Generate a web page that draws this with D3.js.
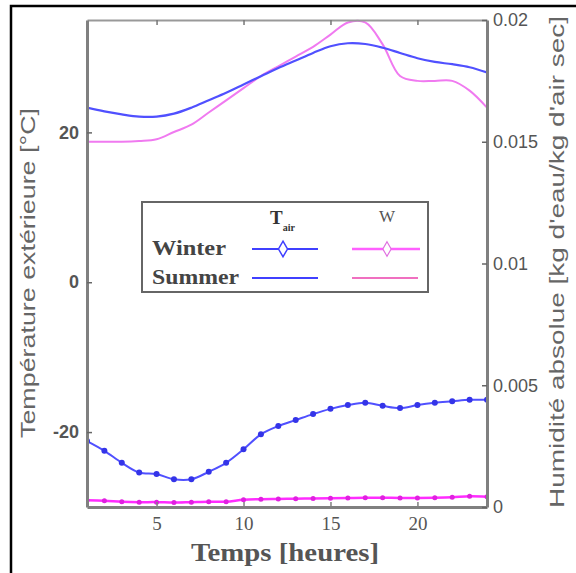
<!DOCTYPE html>
<html><head><meta charset="utf-8">
<script src="https://cdn.jsdelivr.net/npm/d3@7/dist/d3.min.js"></script>
<style>body{margin:0;background:#fff;}svg{display:block;}</style>
</head><body>
<svg id="c" width="576" height="573"></svg>
<script>
const hours = d3.range(1, 25);
const summerT = [23.3,22.8,22.4,22.1,22.1,22.5,23.3,24.3,25.3,26.4,27.5,28.6,29.6,30.6,31.5,31.9,31.8,31.3,30.6,29.9,29.4,29.1,28.7,28.0];
const winterT = [-21.2,-22.5,-24.1,-25.4,-25.6,-26.3,-26.3,-25.3,-24.1,-22.3,-20.3,-19.2,-18.4,-17.6,-16.9,-16.4,-16.1,-16.5,-16.8,-16.4,-16.1,-15.9,-15.7,-15.7];
const summerW = [0.0150,0.0150,0.0150,0.01503,0.0151,0.0154,0.0157,0.0162,0.0167,0.0172,0.0177,0.0181,0.0185,0.0189,0.0194,0.0199,0.0199,0.0190,0.0177,0.0175,0.0175,0.0175,0.0171,0.0164];
const winterW = [0.00028,0.00026,0.00022,0.0002,0.0002,0.00018,0.0002,0.00022,0.00022,0.0003,0.00032,0.00033,0.00034,0.00035,0.00036,0.00037,0.00038,0.00038,0.00037,0.00037,0.00038,0.0004,0.00044,0.00042];
const xTicks = [5,10,15,20];
const yLeftTicks = [-20,0,20];
const yRightTicks = [0,0.005,0.01,0.015,0.02];
const yRightLabels = ["0","0.005","0.01","0.015","0.02"];
const legendRows = ["Winter","Summer"];

const svg = d3.select("#c");
const L = 87, R = 487, T = 20, B = 507;
const x = d3.scaleLinear().domain([1,24]).range([L,R]);
const yL = d3.scaleLinear().domain([-30,35]).range([B,T]);
const yR = d3.scaleLinear().domain([0,0.02]).range([B,T]);
const grey = "#808080", txt = "#555";

svg.append("rect").attr("x",11).attr("y",6).attr("width",600).attr("height",600)
  .attr("fill","none").attr("stroke","#000").attr("stroke-width",2.5);

svg.append("clipPath").attr("id","clip").append("rect").attr("x",L).attr("y",T-1).attr("width",R-L).attr("height",B-T+1);

const g = svg.append("g").attr("clip-path","url(#clip)");
const lineL = d3.line().x((d,i)=>x(hours[i])).y(d=>yL(d)).curve(d3.curveCatmullRom.alpha(0.5));
const lineR = d3.line().x((d,i)=>x(hours[i])).y(d=>yR(d)).curve(d3.curveCatmullRom.alpha(0.5));

g.append("path").datum(summerW).attr("d",lineR).attr("fill","none").attr("stroke","#f07af0").attr("stroke-width",2);
g.append("path").datum(summerT).attr("d",lineL).attr("fill","none").attr("stroke","#5050ff").attr("stroke-width",2.2);
g.append("path").datum(winterW).attr("d",lineR).attr("fill","none").attr("stroke","#ff2cff").attr("stroke-width",2.5);
g.selectAll(".ww").data(winterW).enter().append("circle").attr("cx",(d,i)=>x(hours[i])).attr("cy",d=>yR(d)).attr("r",2.5).attr("fill","#e020e0");
g.append("path").datum(winterT).attr("d",lineL).attr("fill","none").attr("stroke","#5050ff").attr("stroke-width",2);
g.selectAll(".wt").data(winterT).enter().append("circle").attr("cx",(d,i)=>x(hours[i])).attr("cy",d=>yL(d)).attr("r",3).attr("fill","#3434e8");

const ax = svg.append("g").attr("transform",`translate(0,${B})`).call(d3.axisBottom(x).tickValues(xTicks).tickSize(-5).tickPadding(10).tickSizeOuter(0));
ax.select(".domain").attr("stroke",grey).attr("stroke-width",3);
ax.selectAll(".tick line").attr("stroke",grey).attr("stroke-width",1.5);
ax.selectAll("text").attr("fill",txt).attr("font-family","Liberation Serif").attr("font-size",19);

const at = svg.append("g").attr("transform",`translate(0,${T})`).call(d3.axisTop(x).tickValues(xTicks).tickSize(-5).tickFormat("").tickSizeOuter(0));
at.select(".domain").attr("stroke","#999").attr("stroke-width",2);
at.selectAll(".tick line").attr("stroke","#777").attr("stroke-width",1.5);

const al = svg.append("g").attr("transform",`translate(${L},0)`).call(d3.axisLeft(yL).tickValues(yLeftTicks).tickSize(-5).tickPadding(8).tickSizeOuter(0));
al.select(".domain").attr("stroke",grey).attr("stroke-width",3);
al.selectAll(".tick line").attr("stroke","#666").attr("stroke-width",1.5);
al.selectAll("text").attr("fill",txt).attr("font-family","Liberation Sans").attr("font-weight","bold").attr("font-size",18).text(d=>d<0?"-"+Math.abs(d):d);

const ar = svg.append("g").attr("transform",`translate(${R},0)`).call(d3.axisRight(yR).tickValues(yRightTicks).tickSize(-5).tickPadding(6).tickSizeOuter(0).tickFormat((d,i)=>yRightLabels[i]));
ar.select(".domain").attr("stroke",grey).attr("stroke-width",3);
ar.selectAll(".tick line").attr("stroke","#666").attr("stroke-width",1.5);
ar.selectAll("text").attr("fill",txt).attr("font-family","Liberation Sans").attr("font-size",18);

svg.append("text").attr("transform","translate(35,273) rotate(-90)").attr("text-anchor","middle")
  .attr("fill","#666").attr("font-family","Liberation Sans").attr("font-size",20)
  .attr("textLength",330).attr("lengthAdjust","spacingAndGlyphs").text("Température extérieure [°C]");
svg.append("text").attr("transform","translate(564,262) rotate(-90)").attr("text-anchor","middle")
  .attr("fill","#666").attr("font-family","Liberation Sans").attr("font-size",20)
  .attr("textLength",492).attr("lengthAdjust","spacingAndGlyphs").text("Humidité absolue [kg d'eau/kg d'air sec]");
svg.append("text").attr("x",285).attr("y",561).attr("text-anchor","middle")
  .attr("fill","#555").attr("font-family","Liberation Serif").attr("font-weight","bold").attr("font-size",25)
  .attr("textLength",188).attr("lengthAdjust","spacingAndGlyphs").text("Temps [heures]");

const lg = svg.append("g");
lg.append("rect").attr("x",142).attr("y",202).attr("width",286).attr("height",90).attr("fill","#fff").attr("stroke","#666").attr("stroke-width",2);
const th = lg.append("text").attr("x",270).attr("y",224).attr("fill","#333").attr("font-family","Liberation Serif").attr("font-weight","bold").attr("font-size",19);
th.append("tspan").text("T");
th.append("tspan").attr("dy",7).attr("font-size",10).text("air");
lg.append("text").attr("x",387).attr("y",222).attr("text-anchor","middle").attr("fill","#555").attr("font-family","Liberation Serif").attr("font-size",17).text("W");
const rowsY = [249, 278];
const rowLen = [74, 87];
legendRows.forEach((name,i)=>{
  lg.append("text").attr("x",152).attr("y",rowsY[i]+6).attr("fill","#444").attr("font-family","Liberation Serif").attr("font-weight","bold").attr("font-size",20)
    .attr("textLength",rowLen[i]).attr("lengthAdjust","spacingAndGlyphs").text(name);
});
lg.append("line").attr("x1",252).attr("x2",318).attr("y1",rowsY[0]).attr("y2",rowsY[0]).attr("stroke","#4040ff").attr("stroke-width",2);
lg.append("path").attr("d",d3.symbol(d3.symbolDiamond,70)()).attr("transform",`translate(283,${rowsY[0]})`).attr("fill","#fff").attr("stroke","#4040ff").attr("stroke-width",1.5);
lg.append("line").attr("x1",352).attr("x2",420).attr("y1",rowsY[0]).attr("y2",rowsY[0]).attr("stroke","#ff60ff").attr("stroke-width",2.5);
lg.append("path").attr("d",d3.symbol(d3.symbolDiamond,60)()).attr("transform",`translate(387,${rowsY[0]})`).attr("fill","#fff").attr("stroke","#e070e0").attr("stroke-width",1.2);
lg.append("line").attr("x1",252).attr("x2",318).attr("y1",rowsY[1]).attr("y2",rowsY[1]).attr("stroke","#4040ff").attr("stroke-width",2);
lg.append("line").attr("x1",352).attr("x2",418).attr("y1",rowsY[1]).attr("y2",rowsY[1]).attr("stroke","#f070c0").attr("stroke-width",2);
</script>
</body></html>
